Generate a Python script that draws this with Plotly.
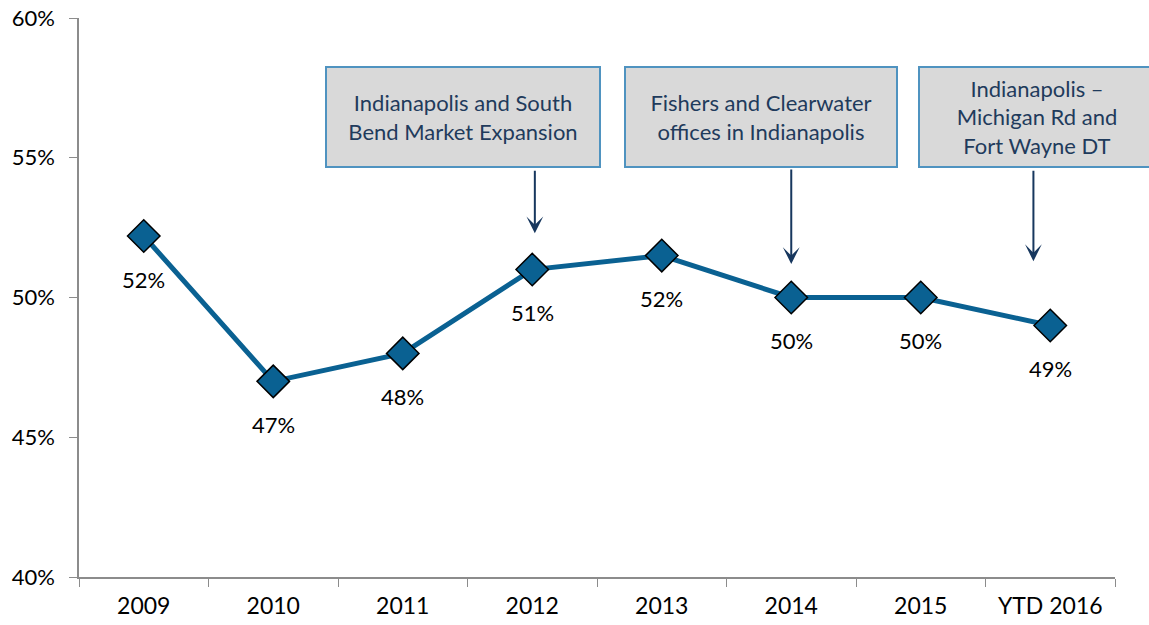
import plotly.graph_objects as go

categories = ["2009", "2010", "2011", "2012", "2013", "2014", "2015", "YTD 2016"]
values = [0.522, 0.470, 0.480, 0.510, 0.515, 0.500, 0.500, 0.490]
labels = ["52%", "47%", "48%", "51%", "52%", "50%", "50%", "49%"]
y_ticks = [0.40, 0.45, 0.50, 0.55, 0.60]
y_tick_labels = ["40%", "45%", "50%", "55%", "60%"]

callout_texts = [
    "Indianapolis and South<br>Bend Market Expansion",
    "Fishers and Clearwater<br>offices in Indianapolis",
    "Indianapolis –<br>Michigan Rd and<br>Fort Wayne DT",
]
callout_box_x = [0.371, 0.658, 0.925]
callout_box_w = [270, 268, 232]
callout_arrow_x = [3.02, 5.0, 6.87]
callout_arrow_tip = [0.523, 0.512, 0.513]
callout_arrow_len = [64, 96, 92]

FONT = "Lato"
LINE = "#0a6192"
NAVY = "#1f3b5c"

fig = go.Figure()
fig.add_trace(go.Scatter(
    x=categories, y=values, mode="lines+markers",
    line=dict(color=LINE, width=5),
    marker=dict(symbol="diamond", size=25, color=LINE,
                line=dict(color="#000000", width=1.5)),
    hoverinfo="skip", showlegend=False,
))

annotations = []
for i, (v, t) in enumerate(zip(values, labels)):
    annotations.append(dict(x=i, y=v, xref="x", yref="y", text=t, showarrow=False,
                            yshift=-43, font=dict(family=FONT, size=22, color="#000000")))

for t, bx, bw in zip(callout_texts, callout_box_x, callout_box_w):
    annotations.append(dict(x=bx, y=0.823, xref="paper", yref="paper", text=t,
                            showarrow=False, xanchor="center", yanchor="middle",
                            width=bw, height=96, align="center", valign="middle",
                            bgcolor="#d9d9d9", bordercolor="#4f93c0", borderwidth=2,
                            font=dict(family=FONT, size=22, color=NAVY)))

for ax_, tip, ln in zip(callout_arrow_x, callout_arrow_tip, callout_arrow_len):
    annotations.append(dict(x=ax_, y=tip, xref="x", yref="y", ax=0, ay=-ln,
                            axref="pixel", ayref="pixel", text="", showarrow=True,
                            arrowhead=3, arrowsize=1.4, arrowwidth=2, arrowcolor="#17375e"))

fig.update_layout(
    width=1149, height=625,
    margin=dict(l=79, r=34, t=18, b=48),
    paper_bgcolor="white", plot_bgcolor="white",
    font=dict(family=FONT, size=22, color="#000000"),
    annotations=annotations,
    xaxis=dict(type="category", range=[-0.5, 7.5], showline=True, linecolor="#8c8c8c",
               linewidth=1.5, ticks="outside", ticklen=8, tickcolor="#8c8c8c",
               tickson="boundaries", showgrid=False, zeroline=False, automargin=False,
               ticklabelstandoff=8,
               tickfont=dict(family=FONT, size=23, color="#000000")),
    yaxis=dict(range=[0.40, 0.60], tickvals=y_ticks, ticktext=y_tick_labels,
               showline=True, linecolor="#8c8c8c", linewidth=1.5, ticks="outside",
               ticklen=8, tickcolor="#8c8c8c", showgrid=False, zeroline=False,
               automargin=False, ticklabelstandoff=10,
               tickfont=dict(family=FONT, size=22, color="#000000")),
)

fig.write_html("out.html", config={"displayModeBar": False},
               post_script="document.body.style.margin='0';")
